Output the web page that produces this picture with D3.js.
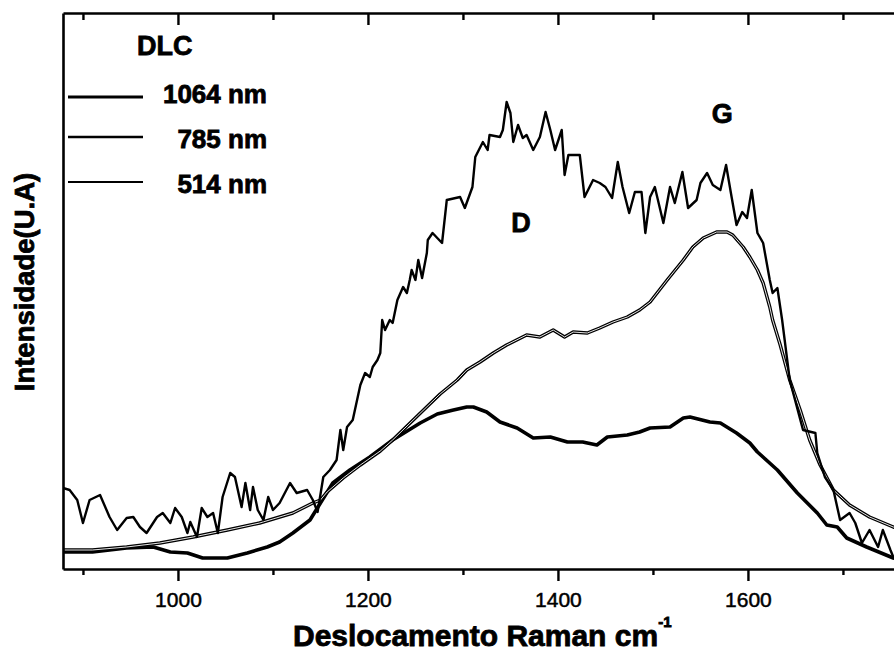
<!DOCTYPE html>
<html>
<head>
<meta charset="utf-8">
<script src="https://cdn.jsdelivr.net/npm/d3@7"></script>
<style>
  html, body { margin: 0; padding: 0; background: #fff; }
  svg { display: block; }
  text { font-family: "Liberation Sans", Arial, Helvetica, sans-serif; fill: #000; }
</style>
</head>
<body>
<svg id="chart" width="894" height="654"></svg>
<script>
// Raman spectra of a DLC film at three excitation wavelengths (arbitrary units)

// 1064 nm excitation (noisy spectrum)
const shift1064 = [879, 886, 894, 900, 907, 918, 928, 936, 946, 953, 960, 967, 978, 984, 992, 997,
  1004, 1010, 1013, 1020, 1025, 1031, 1037, 1042, 1047, 1055, 1060, 1067, 1071, 1076, 1079, 1084,
  1090, 1095, 1100, 1107, 1118, 1125, 1136, 1142, 1147, 1153, 1160, 1167, 1171, 1174, 1178, 1184,
  1192, 1197, 1202, 1205, 1210, 1213, 1215, 1218, 1223, 1226, 1231, 1237, 1241, 1244, 1246, 1250,
  1253, 1257, 1262, 1263, 1268, 1278, 1283, 1297, 1302, 1310, 1313, 1321, 1326, 1328, 1339, 1342,
  1346, 1350, 1353, 1358, 1363, 1367, 1374, 1381, 1387, 1392, 1397, 1404, 1407, 1411, 1423, 1428,
  1437, 1444, 1450, 1457, 1463, 1468, 1475, 1481, 1488, 1492, 1497, 1502, 1511, 1518, 1523, 1531,
  1537, 1546, 1550, 1557, 1563, 1571, 1577, 1583, 1588, 1594, 1599, 1604, 1610, 1616, 1623, 1626,
  1631, 1636, 1644, 1658, 1671, 1673, 1681, 1690, 1697, 1707, 1713, 1720, 1728, 1737, 1742, 1750,
  1753, 1760];
const int1064 = [81, 79, 69, 46, 69, 74, 52, 39, 51, 52, 42, 36, 52, 56, 46, 61,
  52, 36, 47, 32, 61, 52, 56, 36, 72, 96, 92, 62, 86, 59, 82, 59,
  49, 72, 59, 66, 86, 76, 79, 69, 57, 92, 99, 109, 139, 119, 142, 149,
  184, 196, 192, 202, 209, 216, 249, 239, 249, 246, 269, 282, 276, 289, 299, 289,
  309, 291, 316, 329, 336, 326, 369, 372, 361, 382, 412, 427, 419, 434, 432, 439,
  467, 456, 427, 444, 431, 434, 419, 432, 457, 439, 419, 439, 394, 414, 414, 372,
  389, 386, 382, 371, 407, 382, 356, 377, 377, 336, 372, 382, 346, 382, 366, 397,
  361, 369, 386, 396, 384, 379, 404, 371, 344, 357, 351, 379, 336, 326, 289, 276,
  281, 249, 189, 139, 136, 116, 92, 79, 49, 56, 46, 26, 39, 22, 39, 19,
  12, 8];

// 785 nm excitation
const shift785 = [879, 910, 946, 974, 992, 1010, 1026, 1052, 1073, 1094, 1107, 1121, 1139, 1150,
  1163, 1181, 1202, 1226, 1255, 1273, 1290, 1304, 1311, 1325, 1339, 1357, 1374, 1392, 1410, 1426,
  1441, 1452, 1473, 1486, 1497, 1518, 1532, 1539, 1560, 1571, 1588, 1602, 1610, 1631, 1652, 1673,
  1683, 1694, 1704, 1725, 1753, 1760];
const int785 = [17, 17, 21, 22, 17, 16, 11, 11, 16, 22, 27, 36, 49, 66,
  86, 99, 112, 129, 146, 155, 159, 162, 162, 157, 147, 141, 131, 132, 127, 127,
  124, 132, 134, 137, 141, 142, 151, 152, 147, 146, 136, 126, 117, 99, 76, 56,
  44, 42, 31, 22, 11, 9];

// 514 nm excitation
const shift514 = [879, 910, 946, 981, 1016, 1052, 1086, 1121, 1142, 1150, 1157, 1174, 1192, 1213,
  1226, 1239, 1252, 1276, 1294, 1304, 1318, 1332, 1346, 1367, 1381, 1395, 1407, 1416, 1431, 1444,
  1458, 1473, 1486, 1497, 1515, 1532, 1542, 1553, 1567, 1578, 1584, 1595, 1602, 1610, 1616, 1623,
  1626, 1634, 1644, 1655, 1665, 1676, 1690, 1707, 1728, 1753, 1760];
const int514 = [19, 19, 22, 26, 32, 39, 46, 56, 66, 69, 77, 91, 104, 118,
  129, 141, 153, 175, 189, 199, 207, 216, 224, 234, 232, 239, 232, 237, 236, 241,
  247, 252, 259, 267, 289, 309, 322, 331, 337, 337, 334, 322, 312, 299, 286, 262,
  249, 224, 189, 159, 129, 104, 79, 64, 52, 42, 40];

const majorTicks = [1000, 1200, 1400, 1600];
const minorTicks = [900, 1100, 1300, 1500, 1700];
const legendLabels = ["1064 nm", "785 nm", "514 nm"];
const peakLabels = ["D", "G"];

const svg = d3.select("#chart");
const margin = { left: 63, top: 13 };
const plotW = 847, plotH = 556;

const x = d3.scaleLinear().domain([879, 1770.6]).range([margin.left, margin.left + plotW]);
const y = d3.scaleLinear().domain([0, 556]).range([margin.top + plotH, margin.top]);

svg.append("clipPath").attr("id", "plotclip")
  .append("rect").attr("x", margin.left).attr("y", margin.top)
  .attr("width", plotW).attr("height", plotH);

const line = d3.line().x(d => x(d[0])).y(d => y(d[1])).curve(d3.curveLinear);
const zip = (a, b) => a.map((v, i) => [v, b[i]]);

const plot = svg.append("g").attr("clip-path", "url(#plotclip)");

// 785 nm: heavy solid trace
plot.append("path").datum(zip(shift785, int785))
  .attr("d", line).attr("fill", "none").attr("stroke", "#000")
  .attr("stroke-width", 3.6).attr("stroke-linejoin", "round");

// 514 nm: outlined trace
plot.append("path").datum(zip(shift514, int514))
  .attr("d", line).attr("fill", "none").attr("stroke", "#000")
  .attr("stroke-width", 3.4).attr("stroke-linejoin", "round");
plot.append("path").datum(zip(shift514, int514))
  .attr("d", line).attr("fill", "none").attr("stroke", "#fff")
  .attr("stroke-width", 0.9).attr("stroke-linejoin", "round");

// 1064 nm: noisy trace
plot.append("path").datum(zip(shift1064, int1064))
  .attr("d", line).attr("fill", "none").attr("stroke", "#000")
  .attr("stroke-width", 2.4).attr("stroke-linejoin", "round");

// Axes
const axisStroke = sel => {
  sel.select(".domain").attr("stroke", "#000").attr("stroke-width", 2.6);
  sel.selectAll(".tick line").attr("stroke", "#000").attr("stroke-width", 2.4);
};

const axisBottomG = svg.append("g").attr("transform", `translate(0,${margin.top + plotH})`)
  .call(d3.axisBottom(x).tickValues(majorTicks).tickSize(12).tickPadding(11)
    .tickSizeOuter(0).tickFormat(d3.format("d")));
axisStroke(axisBottomG);
axisBottomG.selectAll(".tick text")
  .attr("font-size", 21).attr("font-family", "Liberation Sans, Arial, sans-serif")
  .attr("fill", "#000").attr("stroke", "#000").attr("stroke-width", 0.5);

svg.append("g").attr("transform", `translate(0,${margin.top + plotH})`)
  .call(d3.axisBottom(x).tickValues(minorTicks).tickSize(6).tickSizeOuter(0).tickFormat(""))
  .call(axisStroke).select(".domain").remove();

const axisTopG = svg.append("g").attr("transform", `translate(0,${margin.top})`)
  .call(d3.axisTop(x).tickValues(majorTicks).tickSize(-12).tickSizeOuter(0).tickFormat(""));
axisStroke(axisTopG);
svg.append("g").attr("transform", `translate(0,${margin.top})`)
  .call(d3.axisTop(x).tickValues(minorTicks).tickSize(-7).tickSizeOuter(0).tickFormat(""))
  .call(axisStroke).select(".domain").remove();

const axisLeftG = svg.append("g").attr("transform", `translate(${margin.left},0)`)
  .call(d3.axisLeft(y).tickValues([]).tickSizeOuter(0));
axisStroke(axisLeftG);

svg.append("line").attr("x1", x.range()[1]).attr("x2", x.range()[1])
  .attr("y1", margin.top).attr("y2", margin.top + plotH)
  .attr("stroke", "#000").attr("stroke-width", 2.6);

// Axis titles
svg.append("text")
  .attr("transform", "translate(34,282) rotate(-90)")
  .attr("text-anchor", "middle").attr("font-size", 27.5).attr("font-weight", "bold")
  .attr("stroke", "#000").attr("stroke-width", 0.8)
  .text("Intensidade(U.A)");

const xlab = svg.append("text")
  .attr("x", 293).attr("y", 646)
  .attr("font-size", 30).attr("font-weight", "bold")
  .attr("stroke", "#000").attr("stroke-width", 0.8);
xlab.append("tspan").text("Deslocamento Raman cm");
xlab.append("tspan").attr("font-size", 15).attr("dy", -19).text("-1");

// Legend
svg.append("text").attr("x", 137).attr("y", 55)
  .attr("font-size", 27).attr("font-weight", "bold")
  .attr("stroke", "#000").attr("stroke-width", 0.8).text("DLC");

const legendY = [97, 137, 182];
const legendTextY = [103, 148, 193];
const legendW = [3, 2.6, 2];
legendLabels.forEach((lab, i) => {
  svg.append("line").attr("x1", 68).attr("x2", 143)
    .attr("y1", legendY[i]).attr("y2", legendY[i])
    .attr("stroke", "#000").attr("stroke-width", legendW[i]);
  svg.append("text").attr("x", 267).attr("y", legendTextY[i])
    .attr("text-anchor", "end").attr("font-size", 26).attr("font-weight", "bold")
    .attr("stroke", "#000").attr("stroke-width", 0.8).text(lab);
});

// Band labels
const peakPos = [[1361, 232], [1573, 123]];
peakLabels.forEach((lab, i) => {
  svg.append("text").attr("x", x(peakPos[i][0])).attr("y", peakPos[i][1])
    .attr("text-anchor", "middle").attr("font-size", 27).attr("font-weight", "bold")
    .attr("stroke", "#000").attr("stroke-width", 0.8).text(lab);
});
</script>
</body>
</html>
